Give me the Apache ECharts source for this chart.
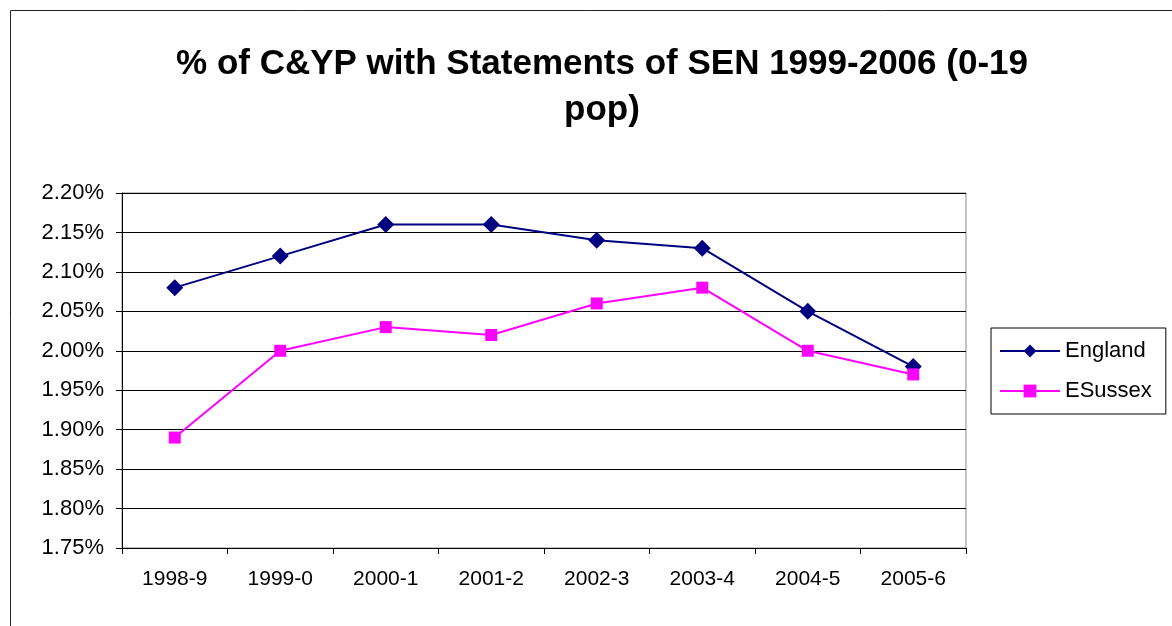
<!DOCTYPE html>
<html style="height: 100%">
<head>
    <meta charset="utf-8">
</head>
<body style="height: 100%; margin: 0; background: #fff">
<div id="container" style="height: 100%"></div>
<script type="text/javascript" src="https://cdn.jsdelivr.net/npm/echarts@6/dist/echarts.min.js"></script>
<script type="text/javascript">
    // data
    var years = ['1998-9', '1999-0', '2000-1', '2001-2', '2002-3', '2003-4', '2004-5', '2005-6'];
    var england = [2.08, 2.12, 2.16, 2.16, 2.14, 2.13, 2.05, 1.98];
    var esussex = [1.89, 2.00, 2.03, 2.02, 2.06, 2.08, 2.00, 1.97];

    var dom = document.getElementById("container");
    var myChart = echarts.init(dom);
    var font = 'Liberation Sans, Arial, sans-serif';

    var option = {
        backgroundColor: '#fff',
        animation: false,
        textStyle: { fontFamily: font },
        title: {
            text: '% of C&YP with Statements of SEN 1999-2006 (0-19\npop)',
            left: 597,
            top: 36,
            textAlign: 'center',
            textStyle: {
                fontFamily: font,
                fontSize: 35,
                fontWeight: 'bold',
                color: '#000',
                lineHeight: 46
            }
        },
        graphic: [{
            type: 'rect',
            shape: { x: 10.5, y: 10.5, width: 1200, height: 700 },
            style: { fill: null, stroke: '#222', lineWidth: 1 },
            silent: true
        }],
        legend: {
            orient: 'vertical',
            left: 991,
            top: 328,
            data: ['England', 'ESussex'],
            itemWidth: 60,
            itemHeight: 16,
            itemGap: 18,
            padding: [12, 14, 12, 8],
            borderColor: '#000',
            borderWidth: 1,
            textStyle: { fontFamily: font, fontSize: 22, color: '#000' }
        },
        grid: {
            left: 122,
            right: 206,
            top: 193,
            bottom: 78,
            show: true,
            borderColor: '#888',
            borderWidth: 1,
            backgroundColor: '#fff'
        },
        xAxis: {
            type: 'category',
            data: years,
            boundaryGap: true,
            axisLine: { lineStyle: { color: '#000', width: 1 } },
            axisTick: { show: true, length: 6, lineStyle: { color: '#000' } },
            axisLabel: { fontFamily: font, fontSize: 21, color: '#000', margin: 21 },
            splitLine: { show: false }
        },
        yAxis: {
            type: 'value',
            min: 1.75,
            max: 2.2,
            interval: 0.05,
            axisLine: { show: true, lineStyle: { color: '#000', width: 1 } },
            axisTick: { show: true, length: 6, lineStyle: { color: '#000' } },
            axisLabel: {
                fontFamily: font,
                fontSize: 22,
                color: '#000',
                margin: 18,
                formatter: function (v) { return v.toFixed(2) + '%'; }
            },
            splitLine: { show: true, lineStyle: { color: '#000', width: 1 } }
        },
        series: [{
            name: 'England',
            type: 'line',
            data: england,
            symbol: 'diamond',
            symbolSize: 17,
            lineStyle: { color: '#000080', width: 2 },
            itemStyle: { color: '#000080' }
        }, {
            name: 'ESussex',
            type: 'line',
            data: esussex,
            symbol: 'rect',
            symbolSize: 12,
            lineStyle: { color: '#ff00ff', width: 2 },
            itemStyle: { color: '#ff00ff' }
        }]
    };

    myChart.setOption(option);
</script>
</body>
</html>
